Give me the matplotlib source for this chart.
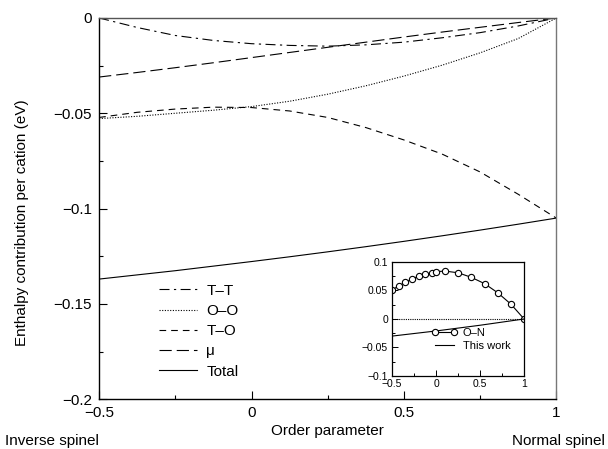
import numpy as np
import matplotlib
matplotlib.use('Agg')
import matplotlib.pyplot as plt
from matplotlib.ticker import MultipleLocator

plt.rcParams['font.family'] = ['Liberation Sans', 'DejaVu Sans']

# order parameter grid (main panel)
x = [-0.5, -0.375, -0.25, -0.125, 0.0, 0.125, 0.25, 0.375, 0.5, 0.625, 0.75, 0.875, 1.0]

# enthalpy contributions per cation (eV)
tt = [0.0, -0.0050, -0.0092, -0.0118, -0.0135, -0.0144, -0.0148, -0.0141, -0.0127, -0.0104, -0.0077, -0.0042, 0.0]
oo = [-0.0528, -0.0516, -0.0500, -0.0484, -0.0465, -0.0437, -0.0400, -0.0356, -0.0305, -0.0248, -0.0183, -0.0108, 0.0]
to = [-0.0522, -0.0495, -0.0478, -0.0468, -0.0470, -0.0488, -0.0522, -0.0575, -0.0640, -0.0714, -0.0808, -0.0925, -0.105]
mu = [-0.0310, -0.0286, -0.0261, -0.0235, -0.0208, -0.0181, -0.0154, -0.0127, -0.0100, -0.0074, -0.0049, -0.0024, 0.0]
total = [-0.137, -0.1348, -0.1326, -0.1302, -0.1278, -0.1253, -0.1227, -0.1200, -0.1172, -0.1143, -0.1113, -0.1082, -0.105]

# inset: O-N data vs this work
on_x = [-0.5, -0.425, -0.35, -0.275, -0.2, -0.125, -0.05, 0.0, 0.1, 0.25, 0.4, 0.55, 0.7, 0.85, 1.0]
on_y = [0.051, 0.058, 0.064, 0.070, 0.075, 0.078, 0.081, 0.083, 0.084, 0.081, 0.073, 0.062, 0.046, 0.026, 0.0]
tw_x = [-0.5, 0.0, 0.5, 1.0]
tw_y = [-0.030, -0.021, -0.011, 0.0]

xticks = [-0.5, 0, 0.5, 1]
xtick_labels = ['\u22120.5', '0', '0.5', '1']
yticks = [0, -0.05, -0.1, -0.15, -0.2]
ytick_labels = ['0', '\u22120.05', '\u22120.1', '\u22120.15', '\u22120.2']
in_yticks = [0.1, 0.05, 0, -0.05, -0.1]
in_ytick_labels = ['0.1', '0.05', '0', '\u22120.05', '\u22120.1']

fig = plt.figure(figsize=(6.08, 4.49), dpi=100)
ax = fig.add_axes([0.163, 0.111, 0.752, 0.849])

lw = 0.8
ax.plot(x, tt, color='k', lw=lw, dashes=(9, 4, 2, 4), label='T\u2013T')
ax.plot(x, oo, color='k', lw=lw, dashes=(1, 1.4), label='O\u2013O')
ax.plot(x, to, color='k', lw=lw, dashes=(6, 4.5), label='T\u2013O')
ax.plot(x, mu, color='k', lw=lw, dashes=(11, 4.5), label='\u03bc')
ax.plot(x, total, color='k', lw=lw, label='Total')

ax.set_xlim(-0.5, 1)
ax.set_ylim(-0.2, 0)
ax.set_xticks(xticks)
ax.set_xticklabels(xtick_labels)
ax.set_yticks(yticks)
ax.set_yticklabels(ytick_labels)
ax.xaxis.set_minor_locator(MultipleLocator(0.25))
ax.yaxis.set_minor_locator(MultipleLocator(0.025))
ax.tick_params(which='both', direction='in', top=False, right=False, labelsize=11, width=0.8)
ax.tick_params(which='major', length=6, pad=5)
ax.tick_params(which='minor', length=3)
for s in ax.spines.values():
    s.set_linewidth(1.0)
ax.spines['top'].set_color('#555555')
ax.spines['right'].set_color('#777777')

ax.set_xlabel('Order parameter', fontsize=11, labelpad=3)
fig.text(0.036, 0.505, 'Enthalpy contribution per cation (eV)', rotation=90,
         ha='center', va='center', fontsize=11)
fig.text(0.086, 0.018, 'Inverse spinel', ha='center', va='center', fontsize=11)
fig.text(0.919, 0.018, 'Normal spinel', ha='center', va='center', fontsize=11)

ax.legend(loc='upper left', bbox_to_anchor=(0.131, 0.303), frameon=False,
          fontsize=11, handlelength=2.5, handletextpad=0.6, labelspacing=0.41,
          borderpad=0, borderaxespad=0)

# inset
ins = fig.add_axes([0.645, 0.1626, 0.217, 0.254])
ins.plot(on_x, on_y, color='k', lw=0.8, marker='o', ms=4.5, mfc='white', mec='k',
         mew=0.8, label='O\u2013N')
ins.plot(tw_x, tw_y, color='k', lw=0.8, label='This work')
ins.plot([-0.5, 1], [0, 0], color='k', lw=0.8, dashes=(1, 1))
ins.set_xlim(-0.5, 1)
ins.set_ylim(-0.1, 0.1)
ins.set_xticks(xticks)
ins.set_xticklabels(xtick_labels)
ins.set_yticks(in_yticks)
ins.set_yticklabels(in_ytick_labels)
ins.xaxis.set_minor_locator(MultipleLocator(0.25))
ins.yaxis.set_minor_locator(MultipleLocator(0.025))
ins.tick_params(which='both', direction='in', top=False, right=False, labelsize=7.5, width=0.7)
ins.tick_params(axis='x', pad=2)
ins.tick_params(axis='y', pad=3)
ins.tick_params(which='major', length=4)
ins.tick_params(which='minor', length=2)
for s in ins.spines.values():
    s.set_linewidth(0.9)
ins.legend(loc='upper left', bbox_to_anchor=(0.3, 0.42), frameon=False,
           fontsize=8, handlelength=2.3, handletextpad=0.5, labelspacing=0.25,
           borderpad=0, borderaxespad=0, numpoints=2)

fig.savefig('out.png', dpi=100)
